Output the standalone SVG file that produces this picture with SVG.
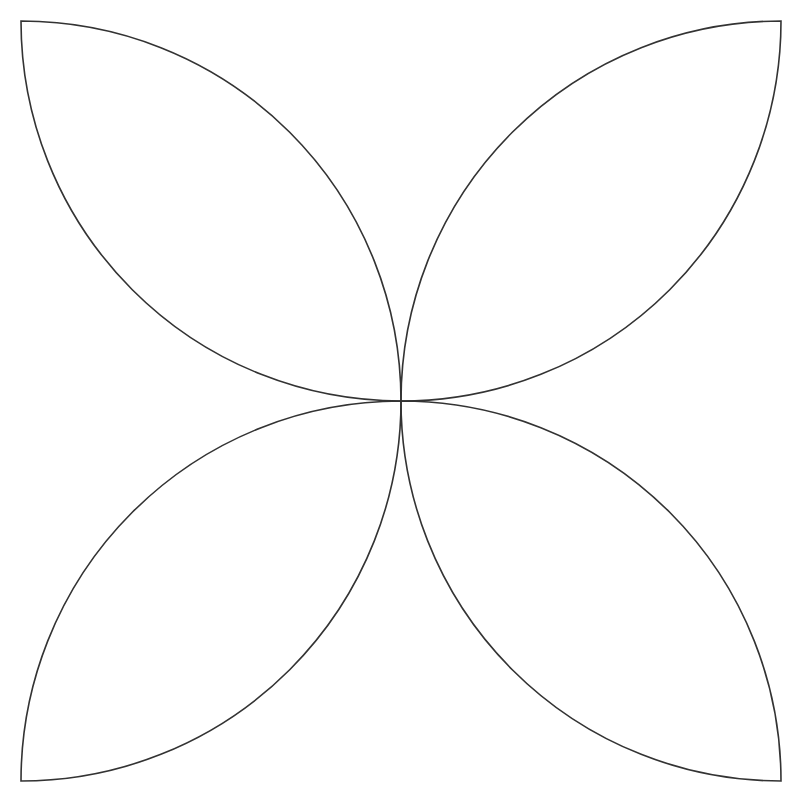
<svg xmlns="http://www.w3.org/2000/svg" width="800" height="800" viewBox="0 0 800 800">
<style>.leaf{fill:none;stroke:#333;stroke-width:1.6}</style>
<rect width="800" height="800" fill="#fff"/>
<g id="leaf-tl"><path class="leaf" d="M21,21 A380,380 0 0 1 401,401 A380,380 0 0 1 21,21 Z"/></g>
<g id="leaf-tr"><path class="leaf" d="M781,21 A380,380 0 0 0 401,401 A380,380 0 0 0 781,21 Z"/></g>
<g id="leaf-bl"><path class="leaf" d="M21,781 A380,380 0 0 0 401,401 A380,380 0 0 0 21,781 Z"/></g>
<g id="leaf-br"><path class="leaf" d="M781,781 A380,380 0 0 1 401,401 A380,380 0 0 1 781,781 Z"/></g>
</svg>
